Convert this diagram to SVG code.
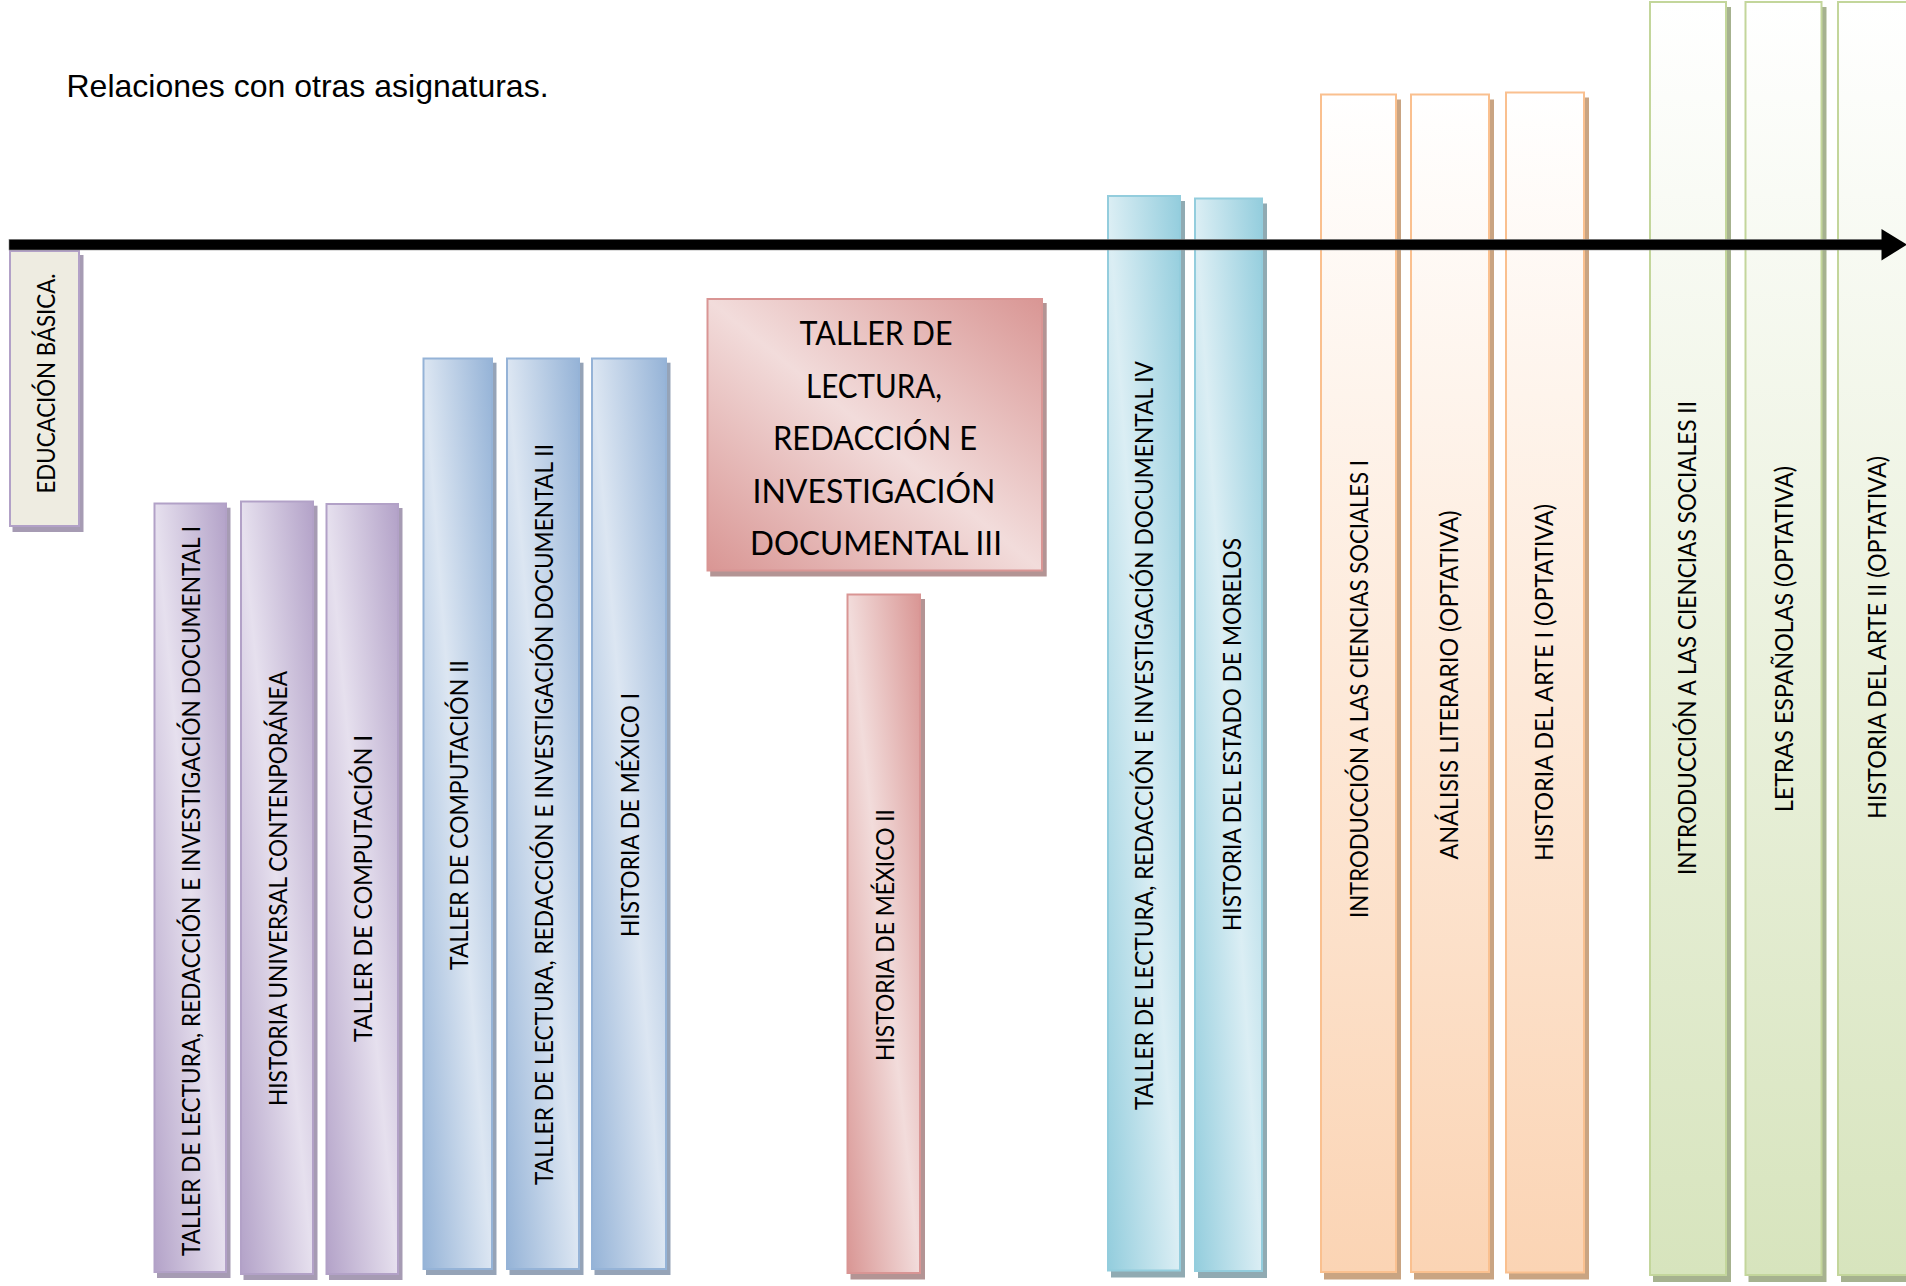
<svg xmlns="http://www.w3.org/2000/svg" width="1906" height="1286" viewBox="0 0 1906 1286">
<defs>
<linearGradient id="gPurple" x1="1" y1="0" x2="0" y2="1"><stop offset="0" stop-color="#b3a2c8"/><stop offset="0.5" stop-color="#e6e0ee"/><stop offset="1" stop-color="#b3a2c8"/></linearGradient>
<linearGradient id="gBlue" x1="1" y1="0" x2="0" y2="1"><stop offset="0" stop-color="#95b3d7"/><stop offset="0.5" stop-color="#dce6f2"/><stop offset="1" stop-color="#95b3d7"/></linearGradient>
<linearGradient id="gPink" x1="1" y1="0" x2="0" y2="1"><stop offset="0" stop-color="#d99694"/><stop offset="0.5" stop-color="#f2dcdb"/><stop offset="1" stop-color="#d99694"/></linearGradient>
<linearGradient id="gTeal" x1="1" y1="0" x2="0" y2="1"><stop offset="0" stop-color="#93cddd"/><stop offset="0.5" stop-color="#dbeef4"/><stop offset="1" stop-color="#93cddd"/></linearGradient>
<linearGradient id="gOrange" x1="0" y1="0" x2="0" y2="1"><stop offset="0" stop-color="#ffffff"/><stop offset="1" stop-color="#fbd4b4"/></linearGradient>
<linearGradient id="gGreen" x1="0" y1="0" x2="0" y2="1"><stop offset="0" stop-color="#ffffff"/><stop offset="1" stop-color="#d7e4bd"/></linearGradient>
</defs>
<style>
.t{font-family:Lato,"Open Sans","Liberation Sans",sans-serif;font-size:25.5px;fill:#000;text-anchor:middle}
.big{font-family:Lato,"Open Sans","Liberation Sans",sans-serif;font-size:33px;fill:#000;text-anchor:middle}
.title{font-family:"Liberation Sans",Arial,sans-serif;font-size:32px;fill:#000}
.purple{fill:url(#gPurple);stroke:#b2a1c7;stroke-width:2}
.blue{fill:url(#gBlue);stroke:#95b3d7;stroke-width:2}
.pink{fill:url(#gPink);stroke:#d99594;stroke-width:2}
.teal{fill:url(#gTeal);stroke:#93cddd;stroke-width:2}
.orange{fill:url(#gOrange);stroke:#fac08f;stroke-width:2}
.green{fill:url(#gGreen);stroke:#c3d69b;stroke-width:2}
.educ{fill:#eeece1;stroke:#b2a1c7;stroke-width:2}
.shP{fill:#a69bb3}.shB{fill:#95a3b7}.shK{fill:#b39494}.shT{fill:#90aab2}.shO{fill:#c9a482}.shG{fill:#a6b28f}
</style>
<rect width="1906" height="1286" fill="#ffffff"/>
<text class="title" x="66.5" y="97">Relaciones con otras asignaturas.</text>

<g id="educacion-basica">
<rect class="shP" x="12.5" y="255" width="71" height="277"/>
<rect class="educ" x="10" y="251" width="69" height="275"/>
<text class="t" transform="translate(46,383.5) rotate(-90)" x="0" y="9.1" textLength="220" lengthAdjust="spacingAndGlyphs">EDUCACIÓN BÁSICA.</text>
</g>

<g id="tlrid1">
<rect class="shP" x="157" y="507.7" width="73.5" height="770.3"/>
<rect class="purple" x="154.5" y="503.5" width="71.5" height="768.5"/>
<text class="t" transform="translate(190.5,891) rotate(-90)" x="0" y="9.1" textLength="730" lengthAdjust="spacingAndGlyphs">TALLER DE LECTURA, REDACCIÓN E INVESTIGACIÓN DOCUMENTAL I</text>
</g>
<g id="historia-universal">
<rect class="shP" x="243.5" y="505.7" width="74" height="774.3"/>
<rect class="purple" x="241" y="501.5" width="72" height="772.5"/>
<text class="t" transform="translate(277.5,888.5) rotate(-90)" x="0" y="9.1" textLength="435" lengthAdjust="spacingAndGlyphs">HISTORIA UNIVERSAL CONTENPORÁNEA</text>
</g>
<g id="computacion1">
<rect class="shP" x="329" y="508" width="73.5" height="772"/>
<rect class="purple" x="326.5" y="504" width="71.5" height="770"/>
<text class="t" transform="translate(362.5,888.5) rotate(-90)" x="0" y="9.1" textLength="307" lengthAdjust="spacingAndGlyphs">TALLER DE COMPUTACIÓN I</text>
</g>

<g id="computacion2">
<rect class="shB" x="426" y="362.7" width="70.5" height="912.3"/>
<rect class="blue" x="423.5" y="358.5" width="68.5" height="910.5"/>
<text class="t" transform="translate(458.5,815) rotate(-90)" x="0" y="9.1" textLength="310" lengthAdjust="spacingAndGlyphs">TALLER DE COMPUTACIÓN II</text>
</g>
<g id="tlrid2">
<rect class="shB" x="509.5" y="362.7" width="74" height="912.3"/>
<rect class="blue" x="507" y="358.5" width="72" height="910.5"/>
<text class="t" transform="translate(543.5,814.5) rotate(-90)" x="0" y="9.1" textLength="741" lengthAdjust="spacingAndGlyphs">TALLER DE LECTURA, REDACCIÓN E INVESTIGACIÓN DOCUMENTAL II</text>
</g>
<g id="historia-mexico1">
<rect class="shB" x="594.5" y="362.7" width="76" height="912.3"/>
<rect class="blue" x="592" y="358.5" width="74" height="910.5"/>
<text class="t" transform="translate(629.5,815) rotate(-90)" x="0" y="9.1" textLength="244" lengthAdjust="spacingAndGlyphs">HISTORIA DE MÉXICO I</text>
</g>

<g id="tlrid3">
<rect class="shK" x="710.2" y="303" width="336.5" height="273.5"/>
<rect class="pink" x="707.5" y="299" width="334.5" height="271.5"/>
<text class="big" x="876" y="345" textLength="153" lengthAdjust="spacingAndGlyphs">TALLER DE</text>
<text class="big" x="874" y="397.5" textLength="136" lengthAdjust="spacingAndGlyphs">LECTURA,</text>
<text class="big" x="875" y="450" textLength="204" lengthAdjust="spacingAndGlyphs">REDACCIÓN E</text>
<text class="big" x="874" y="502.5" textLength="243" lengthAdjust="spacingAndGlyphs">INVESTIGACIÓN</text>
<text class="big" x="876" y="555" textLength="252" lengthAdjust="spacingAndGlyphs">DOCUMENTAL III</text>
</g>
<g id="historia-mexico2">
<rect class="shK" x="850.5" y="599" width="74.5" height="680.5"/>
<rect class="pink" x="847.5" y="594.5" width="72.5" height="678.5"/>
<text class="t" transform="translate(885,935) rotate(-90)" x="0" y="9.1" textLength="252" lengthAdjust="spacingAndGlyphs">HISTORIA DE MÉXICO II</text>
</g>

<g id="tlrid4">
<rect class="shT" x="1111" y="201" width="74" height="1076.5"/>
<rect class="teal" x="1108" y="196" width="72" height="1074.5"/>
<text class="t" transform="translate(1144,735.5) rotate(-90)" x="0" y="9.1" textLength="749" lengthAdjust="spacingAndGlyphs">TALLER DE LECTURA, REDACCIÓN E INVESTIGACIÓN DOCUMENTAL IV</text>
</g>
<g id="historia-morelos">
<rect class="shT" x="1198" y="203.5" width="69" height="1074.5"/>
<rect class="teal" x="1195" y="198.5" width="67" height="1072.5"/>
<text class="t" transform="translate(1232,734.5) rotate(-90)" x="0" y="9.1" textLength="393" lengthAdjust="spacingAndGlyphs">HISTORIA DEL ESTADO DE MORELOS</text>
</g>

<g id="ciencias-sociales1">
<rect class="shO" x="1324" y="99.5" width="77" height="1180"/>
<rect class="orange" x="1321" y="94.5" width="75" height="1177.5"/>
<text class="t" transform="translate(1358.5,689) rotate(-90)" x="0" y="9.1" textLength="458" lengthAdjust="spacingAndGlyphs">INTRODUCCIÓN A LAS CIENCIAS SOCIALES I</text>
</g>
<g id="analisis-literario">
<rect class="shO" x="1414" y="99.5" width="80" height="1180"/>
<rect class="orange" x="1411" y="94.5" width="78" height="1177.5"/>
<text class="t" transform="translate(1449,685) rotate(-90)" x="0" y="9.1" textLength="349" lengthAdjust="spacingAndGlyphs">ANÁLISIS LITERARIO (OPTATIVA)</text>
</g>
<g id="historia-arte1">
<rect class="shO" x="1509" y="97.5" width="80" height="1182"/>
<rect class="orange" x="1506" y="92.5" width="78" height="1180"/>
<text class="t" transform="translate(1544,682.5) rotate(-90)" x="0" y="9.1" textLength="357" lengthAdjust="spacingAndGlyphs">HISTORIA DEL ARTE I (OPTATIVA)</text>
</g>

<g id="ciencias-sociales2">
<rect class="shG" x="1653" y="7" width="78" height="1275"/>
<rect class="green" x="1650" y="2" width="76" height="1273"/>
<text class="t" transform="translate(1687,638) rotate(-90)" x="0" y="9.1" textLength="474" lengthAdjust="spacingAndGlyphs">INTRODUCCIÓN A LAS CIENCIAS SOCIALES II</text>
</g>
<g id="letras-espanolas">
<rect class="shG" x="1748.5" y="7" width="78" height="1275"/>
<rect class="green" x="1745.5" y="2" width="76" height="1273"/>
<text class="t" transform="translate(1783.5,639) rotate(-90)" x="0" y="9.1" textLength="346" lengthAdjust="spacingAndGlyphs">LETRAS ESPAÑOLAS (OPTATIVA)</text>
</g>
<g id="historia-arte2">
<rect class="shG" x="1841" y="7" width="82" height="1275"/>
<rect class="green" x="1838" y="2" width="80" height="1273"/>
<text class="t" transform="translate(1877,637.5) rotate(-90)" x="0" y="9.1" textLength="363" lengthAdjust="spacingAndGlyphs">HISTORIA DEL ARTE II (OPTATIVA)</text>
</g>

<g id="connectors">
<rect x="9" y="239.3" width="1874" height="10.7" fill="#000" stroke="#8a8a8a" stroke-width="0.6"/>
<polygon points="1881.5,229 1907,244.6 1881.5,260.5" fill="#000"/>
</g>
</svg>
